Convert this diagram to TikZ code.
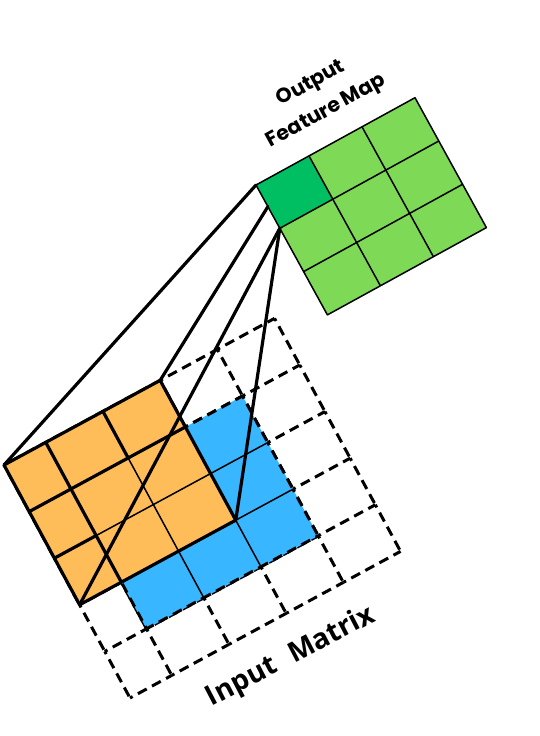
\documentclass[tikz,border=0pt]{standalone}
\usepackage{fontspec}
\newfontfamily\popfont{Poppins}[BoldFont=* Bold]
\newfontfamily\opsfont{Open Sans}
\usetikzlibrary{calc}
\definecolor{cOrange}{HTML}{FFBD59}
\definecolor{cBlue}{HTML}{38B6FF}
\definecolor{cLgreen}{HTML}{7ED957}
\definecolor{cDgreen}{HTML}{00BF63}
\tikzset{
  dashseg/.style={line width=3pt, dash pattern=on 10pt off 6pt, dash phase=7pt},
  thickline/.style={line width=3.2pt, line join=round, line cap=round},
  thinline/.style={line width=1.5pt},
  greenline/.style={line width=1.5pt, line join=round},
  connector/.style={line width=3.2pt, line cap=round},
  labeltext/.style={font=\popfont\bfseries\fontsize{20.5}{32}\selectfont, align=center, rotate=28.8, inner sep=0pt},
  inputtext/.style={font=\opsfont\bfseries\fontsize{28}{30}\selectfont, rotate=27.5, inner sep=0pt}
}
\begin{document}
\begin{tikzpicture}[x=1pt,y=-1pt]
\useasboundingbox (0,0) rectangle (539,736);
% input grid points
\foreach \i/\a in {0/0,1/0.73,2/1.73,3/2.73,4/3.73,5/4.73}{
  \foreach \j in {0,...,5}{
    \coordinate (P\i\j) at ({4+\a*57.2+\j*25.2},{465-\a*31+\j*46.6});
  }
}
% output grid points
\foreach \i in {0,...,3}{
  \foreach \j in {0,...,3}{
    \coordinate (G\i\j) at ({256+\i*53+\j*23.8},{185-\i*29.1+\j*43.3});
  }
}
\coordinate (Gm) at ($(G00)!0.5!(G01)$);
% dashed 5x5 grid
\foreach \i [evaluate=\i as \n using int(\i+1)] in {0,...,4}{
  \foreach \j in {0,...,5}{
    \draw[dashseg] (P\i\j) -- (P\n\j);
    \draw[dashseg] (P\j\i) -- (P\j\n);
  }
}
% fills
\fill[cBlue] (P11) -- (P41) -- (P44) -- (P14) -- cycle;
\fill[cOrange] (P00) -- (P30) -- (P33) -- (P03) -- cycle;
% visible dashed border of the blue window
\foreach \a/\b in {31/41,41/42,42/43,43/44,44/34,34/24,24/14,14/13}{
  \draw[dashseg] (P\a) -- (P\b);
}
% thin inner lines of the blue window
\draw[thinline] (P12) -- (P42);
\draw[thinline] (P13) -- (P43);
\draw[thinline] (P21) -- (P24);
\draw[thinline] (P31) -- (P34);
% orange window lines
\draw[thickline] (P00) -- (P30) -- (P33) -- (P03) -- cycle;
\draw[thickline] (P01) -- (P31);
\draw[thickline] (P10) -- (P13);
\draw[thickline] (P02) -- (P12);
\draw[thickline] (P20) -- (P21);
% output feature map
\fill[cLgreen] (G00) -- (G30) -- (G33) -- (G03) -- cycle;
\fill[cDgreen] (G00) -- (G10) -- (G11) -- (G01) -- cycle;
\draw[greenline] (G00) -- (G30) -- (G33) -- (G03) -- cycle;
\draw[greenline] (G10) -- (G13);
\draw[greenline] (G20) -- (G23);
\draw[greenline] (G01) -- (G31);
\draw[greenline] (G02) -- (G32);
% connectors
\draw[connector] (G00) -- (P00);
\draw[connector] (Gm) -- (P30);
\draw[connector] (G01) -- (P03);
\draw[connector] (G01) -- (P33);
% labels
\node[labeltext] (outlabel) at (319,98) {Output\\Feature Map};
\node[inputtext] (inlabel) at (291,657) {Input\hspace{0.35em} Matrix};
\end{tikzpicture}
\end{document}
